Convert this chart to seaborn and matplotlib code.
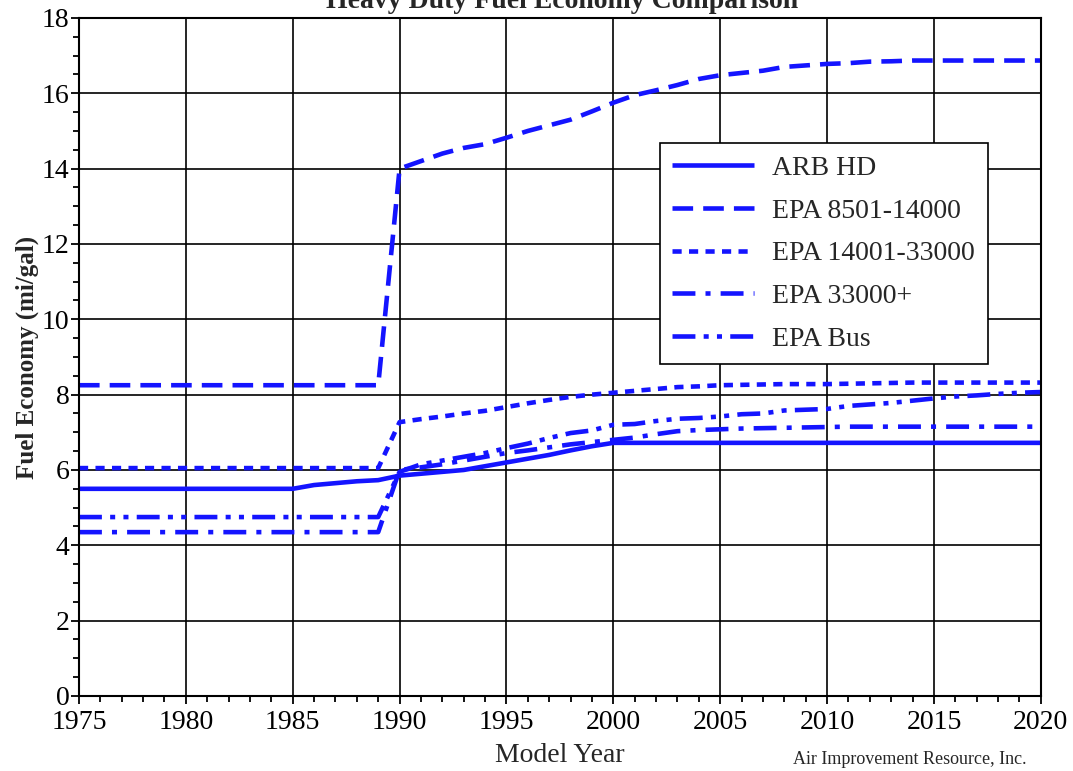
import numpy as np
import pandas as pd
import matplotlib
matplotlib.use("Agg")
import matplotlib.pyplot as plt
from matplotlib.ticker import MultipleLocator
import seaborn as sns

sns.set_style("ticks")
plt.rcParams['font.family'] = ['Liberation Serif', 'DejaVu Serif']

blue = (20/255, 20/255, 255/255)

years = list(range(1975, 2021))

# ARB HD
arb_hd = [5.5]*11 + [5.6, 5.65, 5.7, 5.73, 5.85, 5.9, 5.95, 6.0, 6.1, 6.2,
                     6.3, 6.4, 6.52, 6.63, 6.72] + [6.72]*20

# EPA 8501-14000
epa_8501 = [8.25]*15 + [14.0, 14.2, 14.4, 14.55, 14.65, 14.82, 15.0, 15.15, 15.3, 15.52,
                        15.75, 15.95, 16.08, 16.22, 16.38, 16.48, 16.54, 16.6, 16.7, 16.74,
                        16.78, 16.8, 16.84, 16.85, 16.87, 16.87, 16.87, 16.87, 16.87, 16.87, 16.87]

# EPA 14001-33000
epa_14001 = [6.05]*15 + [7.27, 7.35, 7.42, 7.5, 7.57, 7.67, 7.77, 7.86, 7.94, 8.0,
                         8.05, 8.1, 8.15, 8.2, 8.22, 8.25, 8.26, 8.27, 8.28, 8.28,
                         8.28, 8.29, 8.3, 8.31, 8.32, 8.32, 8.32, 8.32, 8.32, 8.32, 8.32]

# EPA 33000+
epa_33000 = [4.35]*15 + [6.0, 6.07, 6.15, 6.25, 6.35, 6.45, 6.52, 6.6, 6.68, 6.74,
                         6.8, 6.86, 6.95, 7.03, 7.06, 7.08, 7.1, 7.11, 7.12, 7.13,
                         7.14, 7.15, 7.15, 7.15, 7.15, 7.15, 7.15, 7.15, 7.15, 7.15, 7.15]

# EPA Bus
epa_bus = [4.75]*15 + [5.95, 6.15, 6.25, 6.35, 6.45, 6.58, 6.7, 6.85, 6.98, 7.05,
                       7.2, 7.22, 7.3, 7.36, 7.38, 7.42, 7.48, 7.5, 7.58, 7.6,
                       7.62, 7.7, 7.74, 7.78, 7.84, 7.9, 7.95, 7.98, 8.02, 8.05, 8.07]

labels = ["ARB HD", "EPA 8501-14000", "EPA 14001-33000", "EPA 33000+", "EPA Bus"]
series = [arb_hd, epa_8501, epa_14001, epa_33000, epa_bus]
dashes = [(None, None), (4.5, 2.2), (2.0, 1.6), (5.0, 2.2, 1.1, 2.2), (5.0, 1.8, 1.1, 1.8, 1.1, 1.8)]

df = pd.DataFrame({"year": years})
for lab, vals in zip(labels, series):
    df[lab] = vals

fig = plt.figure(figsize=(10.73, 7.71), dpi=100)
ax = fig.add_axes([0.0736, 0.0973, 0.8964, 0.8794])

for lab, d in zip(labels, dashes):
    sns.lineplot(data=df, x="year", y=lab, color=blue, linewidth=3.3, label=lab, ax=ax)
    l = ax.lines[-1]
    if d[0] is not None:
        l.set_dashes(d)
    l.set_solid_capstyle("butt")
    l.set_dash_capstyle("butt")

ax.set_xlim(1975, 2020)
ax.set_ylim(0, 18)
ax.xaxis.set_major_locator(MultipleLocator(5))
ax.xaxis.set_minor_locator(MultipleLocator(1))
ax.yaxis.set_major_locator(MultipleLocator(2))
ax.yaxis.set_minor_locator(MultipleLocator(0.5))
ax.grid(True, which="major", color="black", linewidth=1.2)
ax.set_axisbelow(True)
for s in ax.spines.values():
    s.set_color("black")
    s.set_linewidth(1.5)
ax.tick_params(axis="both", which="major", direction="out", length=6, width=1.3,
               color="black", labelsize=20, labelcolor="black")
ax.tick_params(axis="x", which="major", pad=4)
ax.tick_params(axis="y", which="major", pad=1)
ax.tick_params(axis="both", which="minor", direction="out", length=4, width=1.3, color="black")

ax.set_xlabel("Model Year", fontsize=20, labelpad=6)
ax.set_ylabel("Fuel Economy (mi/gal)", fontsize=18, fontweight="bold", labelpad=2)

fig.text(0.524, 0.9896, "Heavy Duty Fuel Economy Comparison", ha="center", va="baseline",
         fontsize=20, fontweight="bold")
fig.text(0.848, 0.004, "Air Improvement Resource, Inc.", ha="center", va="bottom", fontsize=13)

leg = ax.legend(loc="upper left", bbox_to_anchor=(0.604, 0.8156), fontsize=20,
                handlelength=2.95, labelspacing=0.62, borderpad=0.45, handletextpad=0.65,
                fancybox=False, framealpha=1, edgecolor="black", borderaxespad=0)
leg.get_frame().set_linewidth(1.2)

fig.savefig("out.png", dpi=100)
